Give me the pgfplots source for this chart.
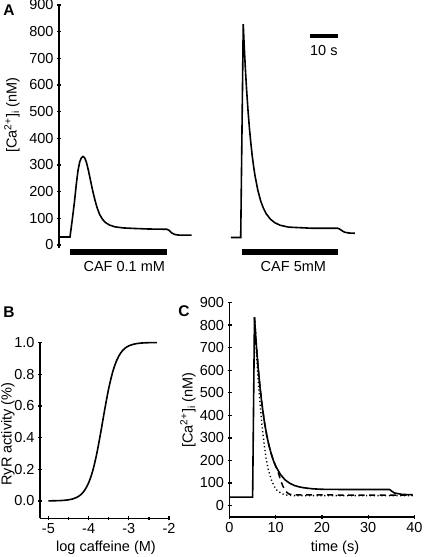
\documentclass[border=0pt]{standalone}
\usepackage{fontspec}
\setmainfont{Liberation Sans}
\usepackage{pgfplots}
\pgfplotsset{compat=1.18}
\newcommand{\lf}{\fontsize{14.5}{17}\selectfont}
\pgfplotsset{
  every tick label/.append style={font=\lf},
  noarrows/.style={
    axis line style={line width=1.5pt,-},
    x axis line style={-}, y axis line style={-},
    every outer x axis line/.append style={-},
    every outer y axis line/.append style={-},
    every inner x axis line/.append style={-},
    every inner y axis line/.append style={-},
  },
  every axis/.append style={
    scale only axis, clip=false, anchor=south west,
    tick style={line width=1.3pt, black},
    major tick length=4pt, minor tick length=2.5pt,
    tick align=outside,
    /pgf/number format/assume math mode=true,
  },
}
\begin{document}
\begin{tikzpicture}[font=\lf]
\path[use as bounding box] (0pt,0pt) rectangle (426pt,-557pt);
% ---------------- Panel A ----------------
\begin{axis}[at={(59pt,-248.2pt)}, width=302.4pt, height=243.2pt,
  xmin=0, xmax=108, ymin=-12, ymax=900,
  axis x line=none, axis y line=left, noarrows,
  ytick={0,100,...,900},
  yticklabel={\lf\pgfmathprintnumber{\tick}}]
\addplot[black, line width=1.6pt] coordinates {
(0,30) (3.93,30) (4.3,60) (4.8,100) (5.5,160) (6.2,230) (6.8,280) (7.4,312)
(8.0,327) (8.6,332) (9.2,326) (9.8,310) (10.5,280) (11.2,245) (12.0,205)
(12.8,170) (13.6,140) (14.5,115) (15.5,97) (16.5,85) (18,75) (20,68) (23,64)
(27,62) (32,60) (38.5,59) (39.3,55) (40.3,45) (41.5,39) (43,37) (47.4,37)};
\addplot[black, line width=1.6pt] coordinates {
(61.4,28) (64.9,28) (65.8,828) (66.2,735) (66.6,654) (67.0,582) (67.5,505)
(68.0,439) (68.5,384) (69.0,335) (69.5,295) (70.0,260) (71.0,206) (72.0,166)
(73.0,138) (74.0,117) (75.5,97) (77.0,84) (79.0,74) (82.0,67) (86,65) (90,63)
(99.5,63) (100.2,60) (101.0,54) (102,48) (103.5,45) (105.7,44)};
% caffeine bars
\addplot[black, line width=6.5pt] coordinates {(3.93,-26) (38.6,-26)};
\addplot[black, line width=6.5pt] coordinates {(65.25,-26) (99.5,-26)};
% scale bar
\addplot[black, line width=4pt] coordinates {(89.6,784) (99.6,784)};
\node at (axis cs:94.6,731) {10 s};
\node at (axis cs:23.3,-81) {CAF 0.1 mM};
\node at (axis cs:83.7,-81) {CAF 5mM};
\end{axis}
\node[rotate=90] at (12pt,-115pt) {[Ca\textsuperscript{2+}]\textsubscript{i} (nM)};
\node[font=\fontsize{15.5}{17}\selectfont\bfseries] at (9pt,-10pt) {A};
% ---------------- Panel B ----------------
\begin{axis}[at={(40pt,-518.3pt)}, width=129pt, height=175.8pt,
  xmin=-5.21, xmax=-2, ymin=-0.11, ymax=1.0,
  axis lines=left, noarrows,
  xtick={-5,-4,-3,-2}, xticklabels={{\lf-5},{\lf-4},{\lf-3},{\lf-2}},
  minor x tick num=1,
  ytick={0,0.2,...,1.0}, minor y tick num=1,
  yticklabel={\lf\pgfmathprintnumber[fixed,fixed zerofill,precision=1]{\tick}}]
\addplot[black, line width=1.6pt, smooth] coordinates {
(-5.0,0.0004) (-4.9,0.0006) (-4.8,0.0012) (-4.7,0.0021) (-4.6,0.0037)
(-4.5,0.0067) (-4.4,0.012) (-4.3,0.0215) (-4.2,0.038) (-4.1,0.0665)
(-4.0,0.114) (-3.9,0.188) (-3.8,0.295) (-3.7,0.430) (-3.6,0.576)
(-3.5,0.710) (-3.4,0.815) (-3.3,0.888) (-3.2,0.935) (-3.1,0.963)
(-3.0,0.979) (-2.9,0.988) (-2.8,0.9934) (-2.7,0.9964) (-2.6,0.998)
(-2.5,0.9989) (-2.4,0.9994) (-2.3,0.9997)};
\end{axis}
\node[rotate=90] at (8pt,-434pt) {RyR activity (\%)};
\node at (106pt,-548pt) {log caffeine (M)};
\node[font=\fontsize{15.5}{17}\selectfont\bfseries] at (9pt,-312pt) {B};
% ---------------- Panel C ----------------
\begin{axis}[at={(229.5pt,-516.8pt)}, width=185pt, height=214.3pt,
  xmin=0, xmax=40, ymin=-50, ymax=900,
  axis lines=left, noarrows,
  xtick={0,10,...,40}, minor x tick num=1,
  ytick={0,100,...,900},
  xticklabel={\lf\pgfmathprintnumber{\tick}},
  yticklabel={\lf\pgfmathprintnumber{\tick}}]
% dotted
\addplot[black, line width=1.4pt, dash pattern=on 1.2pt off 2.6pt] coordinates {
(5.4,834) (5.9,650) (6.4,500) (7.0,360) (7.5,270) (7.9,210) (8.4,158)
(9.1,111) (10.0,72) (11.3,52) (12.4,46) (14,44) (39.6,44)};
% dashed
\addplot[black, line width=1.5pt, dash pattern=on 6pt off 4.5pt] coordinates {
(5.4,834) (5.8,712) (6.2,610) (6.6,524) (7.0,452) (7.5,377) (8.0,317)
(8.5,269) (9.0,231) (9.5,199) (10,174) (10.5,150) (11,115) (11.5,88) (12,68)
(12.5,56) (13,50) (14,47) (39.6,46)};
% solid
\addplot[black, line width=1.6pt] coordinates {
(0,37) (5.0,37) (5.4,834) (5.8,712) (6.2,610) (6.6,524) (7.0,452) (7.5,377)
(8.0,317) (8.5,269) (9.0,231) (9.5,199) (10,174) (11,138) (12,114) (13,99)
(14,89) (15,83) (16,79) (18,74) (20,72) (25,71) (34.6,71) (35.6,56)
(37.4,49) (39.6,48)};
\end{axis}
\node[rotate=90] at (188pt,-410pt) {[Ca\textsuperscript{2+}]\textsubscript{i} (nM)};
\node at (335pt,-548pt) {time (s)};
\node[font=\fontsize{15.5}{17}\selectfont\bfseries] at (184pt,-311pt) {C};
\end{tikzpicture}
\end{document}
